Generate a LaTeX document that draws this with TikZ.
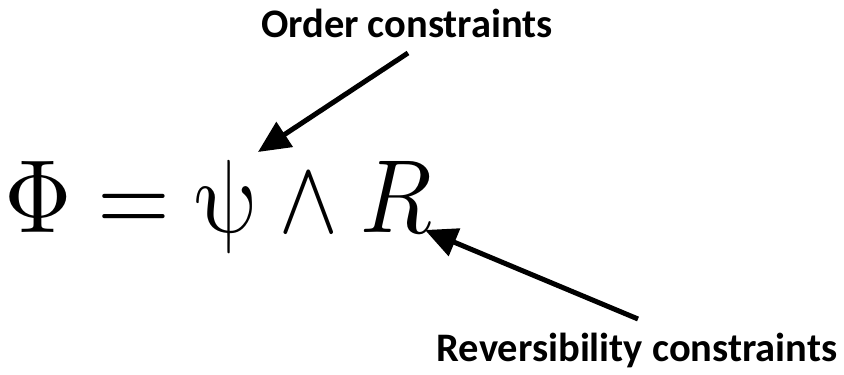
\documentclass[tikz,border=0pt]{standalone}
\usepackage{fontspec}
\usepackage{unicode-math}
\setmathfont{Latin Modern Math}
\setsansfont{Carlito}
\usetikzlibrary{arrows.meta,positioning}

\begin{document}
\begin{tikzpicture}[
    x=1pt, y=1pt,
    tag/.style={font=\sffamily\bfseries\fontsize{40.5}{44}\selectfont, inner sep=0pt, anchor=base},
    arr/.style={-{Triangle[length=32pt,width=29pt]}, line width=5pt},
]
\useasboundingbox (0,0) rectangle (844,375);
% Formula
\node[anchor=base west, inner sep=0pt, xscale=0.9, transform shape,
      font=\fontsize{104}{110}\selectfont] (formula) at (4,142) {$\Phi = \symup{\psi} \wedge R$};
% Labels
\node[tag] (order) at (407,337) {Order constraints};
\node[tag] (rev) at (637,13) {Reversibility constraints};
% Arrow ends
\coordinate (psitip) at (258,223);
\coordinate (rtip) at (425,145);
\coordinate (ordertail) at (408,322);
\coordinate (revtail) at (638,56);
% Arrows
\draw[arr] (ordertail) -- (psitip);
\draw[arr] (revtail) -- (rtip);
\end{tikzpicture}
\end{document}
